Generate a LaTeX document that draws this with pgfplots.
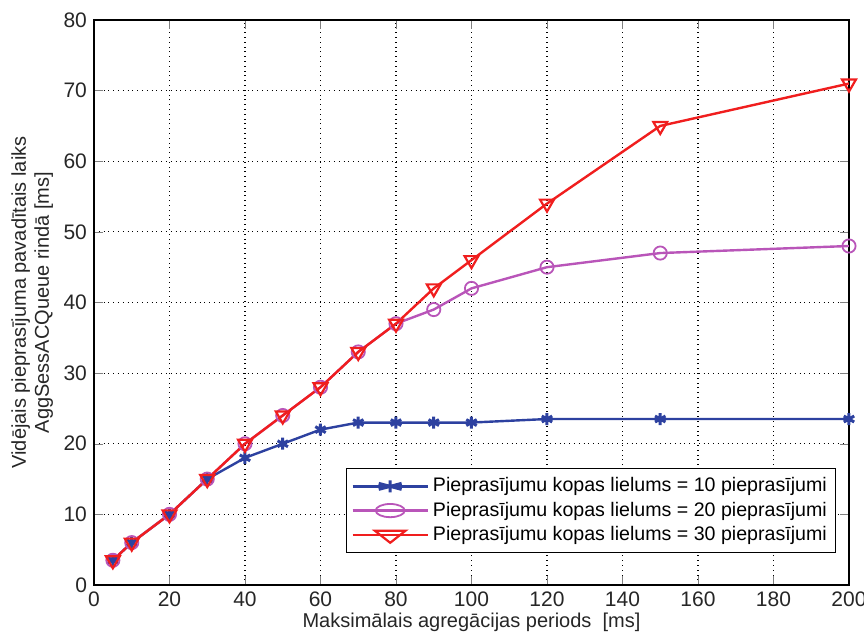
\documentclass[border=0pt]{standalone}
\usepackage{pgfplots}
\pgfplotsset{compat=1.18}
\usepackage{fontspec}
\setmainfont{Liberation Sans}
\definecolor{cblue}{RGB}{45,65,160}
\definecolor{cpurple}{RGB}{185,85,185}
\definecolor{cred}{RGB}{240,30,30}
\begin{document}
\begin{tikzpicture}
\begin{axis}[
  scale only axis, width=377.5pt, height=282.5pt,
  xmin=0, xmax=200, ymin=0, ymax=80,
  xtick={0,20,...,200}, ytick={0,10,...,80},
  tick align=inside, tick pos=both,
  grid=major, major grid style={black, dotted, line width=0.6pt},
  axis line style={black, line width=0.6pt},
  /pgf/number format/assume math mode=true,
  tick label style={font=\fontsize{10.5}{12}\selectfont, color=black!85},
  label style={font=\fontsize{10}{11.5}\selectfont, color=black!85},
  xlabel={Maksimālais agregācijas periods\ \ [ms]},
  ylabel={\begin{tabular}{c}Vidējais pieprasījuma pavadītais laiks\\AggSessACQueue rindā [ms]\end{tabular}},
  xlabel style={yshift=4pt},
  ylabel style={yshift=-3pt},
  legend style={at={(0.983,0.057)}, anchor=south east, font=\fontsize{9.8}{11}\selectfont, draw=black, row sep=-0.5pt, inner sep=2.5pt},
  legend cell align=left,
  legend image post style={xscale=2.2},
]
\addplot[cblue, line width=1.2pt, mark=asterisk, mark size=3pt, mark options={line width=1.5pt}] coordinates {
(5,3.5)(10,6)(20,10)(30,15)(40,18)(50,20)(60,22)(70,23)(80,23)(90,23)(100,23)(120,23.5)(150,23.5)(200,23.5)};
\addlegendentry{Pieprasījumu kopas lielums = 10 pieprasījumi}
\addplot[cpurple, line width=1.2pt, mark=o, mark size=3.3pt, mark options={line width=0.9pt}] coordinates {
(5,3.5)(10,6)(20,10)(30,15)(40,20)(50,24)(60,28)(70,33)(80,37)(90,39)(100,42)(120,45)(150,47)(200,48)};
\addlegendentry{Pieprasījumu kopas lielums = 20 pieprasījumi}
\addplot[cred, line width=1.2pt, mark=triangle, mark size=4pt, mark options={rotate=180, line width=1.1pt}] coordinates {
(5,3.5)(10,6)(20,10)(30,15)(40,20)(50,24)(60,28)(70,33)(80,37)(90,42)(100,46)(120,54)(150,65)(200,71)};
\addlegendentry{Pieprasījumu kopas lielums = 30 pieprasījumi}
\end{axis}
\pgfresetboundingbox
\useasboundingbox ([xshift=-47pt,yshift=-25pt]current axis.south west) rectangle ([xshift=7.5pt,yshift=10pt]current axis.north east);
\end{tikzpicture}
\end{document}
